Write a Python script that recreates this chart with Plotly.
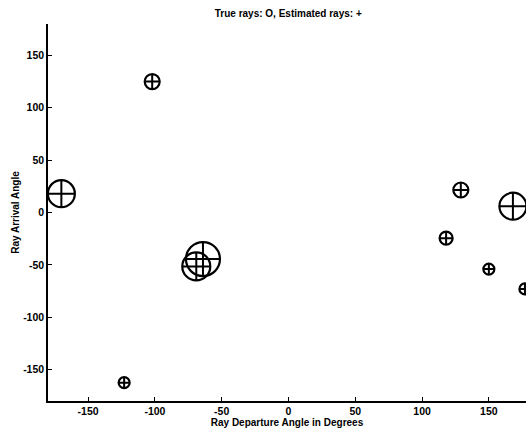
import plotly.graph_objects as go

# True ray angles (departure, arrival) and relative amplitudes (marker size)
true_departure = [-170, -102, -64, -69, -123, 129, 168, 118, 150, 177]
true_arrival = [18, 125, -44.5, -51.5, -162.5, 21.5, 6, -24.5, -54, -73]
true_size = [27, 15, 34, 28, 11, 15, 27, 13, 11, 11]

# Estimated ray angles
est_departure = [-170, -102, -64, -69, -123, 129, 168, 118, 150, 177]
est_arrival = [18, 125, -44.5, -51.5, -162.5, 21.5, 6, -24.5, -54, -73]
est_size = [27, 15, 34, 28, 11, 15, 27, 13, 11, 11]

x_ticks = [-150, -100, -50, 0, 50, 100, 150]
y_ticks = [-150, -100, -50, 0, 50, 100, 150]

# plotly's cross-thin symbol arms reach 1.4x the circle radius for equal size
CROSS_SCALE = 1 / 1.4

fig = go.Figure()
fig.add_trace(go.Scatter(
    x=true_departure, y=true_arrival, mode="markers", name="True rays",
    marker=dict(symbol="circle-open", size=true_size, color="black", opacity=1,
                line=dict(width=2.2, color="black")),
))
fig.add_trace(go.Scatter(
    x=est_departure, y=est_arrival, mode="markers", name="Estimated rays",
    marker=dict(symbol="cross-thin-open", size=[s * CROSS_SCALE for s in est_size],
                color="black", opacity=1, line=dict(width=2, color="black")),
))

font_fam = "Liberation Sans, Arial, sans-serif"
fig.update_layout(
    width=526, height=433,
    margin=dict(l=48, r=0, t=24, b=32, autoexpand=False),
    paper_bgcolor="white", plot_bgcolor="white",
    showlegend=False,
    font=dict(family=font_fam, color="black"),
    title=dict(text="True rays: O, Estimated rays: +", x=0.548, xanchor="center",
               y=1 - 13 / 433, yanchor="middle",
               font=dict(size=10, family=font_fam, weight="bold", color="black")),
    xaxis=dict(
        range=[-180, 177.8], tickvals=x_ticks, ticktext=[str(v) for v in x_ticks],
        showgrid=False, zeroline=False, showline=True, linecolor="black", linewidth=1.5,
        mirror=False, ticks="inside", ticklen=4, tickwidth=1, tickcolor="black",
        automargin=False,
        tickfont=dict(size=10.5, family=font_fam, weight="bold", color="black"),
        title=dict(text="Ray Departure Angle in Degrees", standoff=0,
                   font=dict(size=10, family=font_fam, weight="bold", color="black")),
    ),
    yaxis=dict(
        range=[-180, 180], tickvals=y_ticks, ticktext=[str(v) for v in y_ticks],
        showgrid=False, zeroline=False, showline=True, linecolor="black", linewidth=1.5,
        mirror=False, ticks="inside", ticklen=4, tickwidth=1, tickcolor="black",
        automargin=False,
        tickfont=dict(size=10.5, family=font_fam, weight="bold", color="black"),
        title=dict(text="Ray Arrival Angle", standoff=2,
                   font=dict(size=10, family=font_fam, weight="bold", color="black")),
    ),
)

fig.write_html(
    "out.html",
    config={"displayModeBar": False},
    post_script="document.body.style.margin='0';document.body.style.padding='0';",
)
